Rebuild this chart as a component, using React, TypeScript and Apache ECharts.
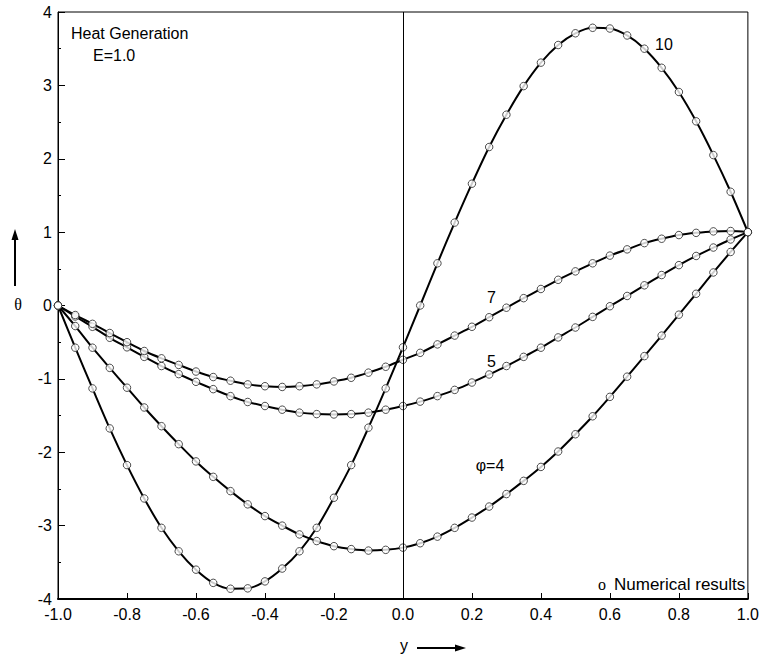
import React, { useEffect, useRef } from "react";
import * as echarts from "echarts";

// y positions (abscissa) of the computed points
const yPos = [
  -1.0, -0.95, -0.9, -0.85, -0.8, -0.75, -0.7, -0.65, -0.6, -0.55, -0.5,
  -0.45, -0.4, -0.35, -0.3, -0.25, -0.2, -0.15, -0.1, -0.05, 0.0,
  0.05, 0.1, 0.15, 0.2, 0.25, 0.3, 0.35, 0.4, 0.45, 0.5,
  0.55, 0.6, 0.65, 0.7, 0.75, 0.8, 0.85, 0.9, 0.95, 1.0,
];

// theta values, phi = 4
const phi4 = [
  0, -0.28, -0.575, -0.85, -1.12, -1.39, -1.645, -1.89, -2.125, -2.335, -2.53,
  -2.71, -2.87, -3.0, -3.12, -3.21, -3.28, -3.32, -3.34, -3.33, -3.3,
  -3.24, -3.15, -3.03, -2.89, -2.74, -2.57, -2.39, -2.2, -1.99, -1.755,
  -1.51, -1.245, -0.97, -0.69, -0.41, -0.125, 0.16, 0.45, 0.73, 1.0,
];

// theta values, phi = 5
const phi5 = [
  0, -0.15, -0.29, -0.44, -0.57, -0.7, -0.825, -0.935, -1.04, -1.14, -1.235,
  -1.315, -1.37, -1.42, -1.46, -1.48, -1.485, -1.48, -1.46, -1.42, -1.37,
  -1.31, -1.235, -1.15, -1.05, -0.94, -0.825, -0.7, -0.575, -0.435, -0.3,
  -0.155, -0.01, 0.13, 0.275, 0.415, 0.55, 0.675, 0.79, 0.9, 1.0,
];

// theta values, phi = 7
const phi7 = [
  0, -0.13, -0.25, -0.375, -0.5, -0.62, -0.72, -0.81, -0.9, -0.975, -1.025,
  -1.075, -1.1, -1.11, -1.1, -1.075, -1.035, -0.985, -0.915, -0.835, -0.74,
  -0.645, -0.53, -0.41, -0.29, -0.16, -0.03, 0.1, 0.225, 0.35, 0.465,
  0.575, 0.68, 0.765, 0.85, 0.91, 0.96, 0.99, 1.01, 1.015, 1.0,
];

// theta values, phi = 10
const phi10 = [
  0, -0.575, -1.13, -1.675, -2.175, -2.63, -3.03, -3.35, -3.6, -3.78, -3.86,
  -3.855, -3.76, -3.585, -3.35, -3.03, -2.62, -2.175, -1.665, -1.13, -0.57,
  0.0, 0.575, 1.13, 1.66, 2.16, 2.6, 2.99, 3.31, 3.55, 3.71,
  3.785, 3.775, 3.68, 3.5, 3.24, 2.91, 2.51, 2.05, 1.55, 1.0,
];

const curves = [
  { name: "φ=4", values: phi4 },
  { name: "5", values: phi5 },
  { name: "7", values: phi7 },
  { name: "10", values: phi10 },
];

const FONT = "'Liberation Sans', Arial, Helvetica, sans-serif";

export default function App() {
  const ref = useRef<HTMLDivElement>(null);

  useEffect(() => {
    const chart = echarts.init(ref.current!, null, { renderer: "svg" });

    const lineSeries: any[] = curves.map((c, idx) => ({
      type: "line",
      name: c.name,
      data: yPos.map((x, i) => [x, c.values[i]]),
      showSymbol: false,
      smooth: 0.3,
      lineStyle: { color: "#000", width: 2 },
      z: 2,
      ...(idx === 0
        ? {
            markLine: {
              silent: true,
              symbol: ["none", "none"],
              label: { show: false },
              lineStyle: { color: "#000", width: 1, type: "solid" },
              data: [{ xAxis: 0 }],
            },
          }
        : {}),
    }));

    const markerSeries: any[] = curves.map((c) => ({
      type: "scatter",
      name: c.name + " pts",
      data: yPos.map((x, i) => [x, c.values[i]]),
      symbol: "circle",
      symbolSize: 7.5,
      itemStyle: { color: "#fff", borderColor: "#222", borderWidth: 1 },
      z: 4,
    }));

    const txt = (text: string, x: number, y: number, extra: any = {}) => ({
      type: "text",
      x,
      y,
      silent: true,
      style: {
        text,
        fill: "#000",
        font: `16px ${FONT}`,
        textVerticalAlign: "middle",
        ...extra,
      },
      z: 10,
    });

    chart.setOption({
      animation: false,
      backgroundColor: "#fff",
      grid: {
        left: 58,
        top: 12,
        right: 14,
        bottom: 60,
        show: true,
        borderColor: "#000",
        borderWidth: 1,
        backgroundColor: "transparent",
      },
      xAxis: {
        type: "value",
        min: -1,
        max: 1,
        interval: 0.2,
        axisLine: { show: true, onZero: false, lineStyle: { color: "#000", width: 2 } },
        axisTick: { show: true, inside: true, length: 6, lineStyle: { color: "#000", width: 1 } },
        axisLabel: {
          color: "#000",
          fontSize: 16,
          fontFamily: FONT,
          margin: 7,
          formatter: (v: number) => v.toFixed(1),
        },
        splitLine: { show: false },
      },
      yAxis: {
        type: "value",
        min: -4,
        max: 4,
        interval: 1,
        axisLine: { show: true, onZero: false, lineStyle: { color: "#000", width: 1 } },
        axisTick: { show: true, inside: true, length: 7, lineStyle: { color: "#000", width: 1 } },
        minorTick: { show: true, splitNumber: 2, length: 3, lineStyle: { color: "#000", width: 1 } },
        axisLabel: {
          color: "#000",
          fontSize: 16,
          fontFamily: FONT,
          margin: 6,
          formatter: (v: number) => String(Math.round(v)),
        },
        splitLine: { show: false },
      },
      series: [...lineSeries, ...markerSeries],
      graphic: [
        txt("Heat Generation", 71, 33),
        txt("E=1.0", 93, 55),
        txt("10", 655, 44),
        txt("7", 491.5, 297.5, { textAlign: "center" }),
        txt("5", 491.5, 361.5, { textAlign: "center" }),
        txt("φ=4", 490, 465, { textAlign: "center" }),
        txt("o", 598, 584, { font: `16px 'Liberation Serif', serif` }),
        txt("Numerical results", 614, 584, { font: `17px ${FONT}` }),
        txt("y", 400, 645),
        txt("θ", 18, 304, { textAlign: "center", font: `16px 'Liberation Serif', serif` }),
        {
          type: "line",
          silent: true,
          shape: { x1: 417, y1: 648, x2: 458, y2: 648 },
          style: { stroke: "#000", lineWidth: 2 },
        },
        {
          type: "polygon",
          silent: true,
          shape: { points: [[466, 648], [455, 644.5], [455, 651.5]] },
          style: { fill: "#000" },
        },
        {
          type: "line",
          silent: true,
          shape: { x1: 15, y1: 286, x2: 15, y2: 238 },
          style: { stroke: "#000", lineWidth: 2 },
        },
        {
          type: "polygon",
          silent: true,
          shape: { points: [[15, 229], [11.5, 240], [18.5, 240]] },
          style: { fill: "#000" },
        },
      ],
    });

    return () => chart.dispose();
  }, []);

  return (
    <div
      ref={ref}
      style={{ position: "absolute", left: 0, top: 0, width: 762, height: 659 }}
    />
  );
}
